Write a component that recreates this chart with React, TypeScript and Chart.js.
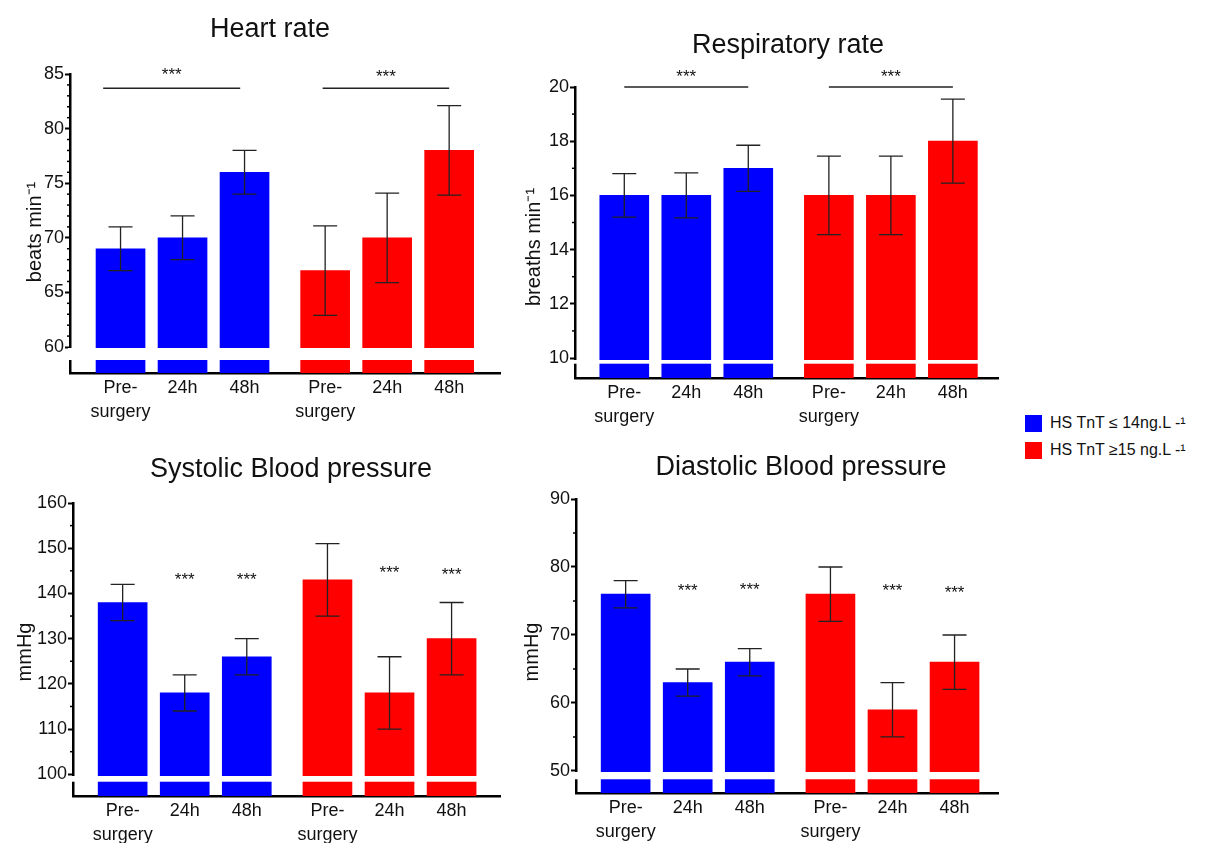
import React, { useEffect, useRef } from 'react';
import { Chart, registerables } from 'chart.js';

Chart.register(...registerables);

const FONT = "'Liberation Sans', Arial, Helvetica, sans-serif";
const BLUE = '#0000ff';
const RED = '#ff0000';
const INK = '#111111';

// ---------- data ----------
const timeLabels: (string | string[])[] = [['Pre-', 'surgery'], '24h', '48h', ['Pre-', 'surgery'], '24h', '48h'];
const barPositions = [0, 1, 2, 3.3, 4.3, 5.3];
const groupNames = ['HS TnT ≤ 14ng.L -¹', 'HS TnT ≥15 ng.L -¹'];

const heartLow = [69, 70, 76];
const heartLowErr = [2, 2, 2];
const heartHigh = [67, 70, 78];
const heartHighErr = [4.1, 4.1, 4.1];
const heartTicks = [60, 65, 70, 75, 80, 85];
const heartMinor = [61, 62, 63, 64, 66, 67, 68, 69, 71, 72, 73, 74, 76, 77, 78, 79, 81, 82, 83, 84];
const heartBrackets = [
  { from: -0.28, to: 1.93, line: 83.7, stars: 85.35 },
  { from: 3.26, to: 5.3, line: 83.7, stars: 85.2 },
];

const respLow = [16, 16, 17];
const respLowErr = [0.8, 0.83, 0.85];
const respHigh = [16, 16, 18];
const respHighErr = [1.45, 1.45, 1.55];
const respTicks = [10, 12, 14, 16, 18, 20];
const respMinor = [11, 13, 15, 17, 19];
const respBrackets = [
  { from: 0, to: 2, line: 20, stars: 20.56 },
  { from: 3.3, to: 5.3, line: 20, stars: 20.56 },
];

const sysLow = [138, 118, 126];
const sysLowErr = [4, 4, 4];
const sysHigh = [143, 118, 130];
const sysHighErr = [8, 8, 8];
const sysTicks = [100, 110, 120, 130, 140, 150, 160];
const sysMinor = [105, 115, 125, 135, 145, 155];
const sysStars = [
  { at: 1, level: 144.1 },
  { at: 2, level: 143.9 },
  { at: 4, level: 145.5 },
  { at: 5, level: 145.2 },
];

const diaLow = [76, 63, 66];
const diaLowErr = [2, 2, 2];
const diaHigh = [76, 59, 66];
const diaHighErr = [4, 4, 4];
const diaTicks = [50, 60, 70, 80, 90];
const diaMinor = [55, 65, 75, 85];
const diaStars = [
  { at: 1, level: 77.1 },
  { at: 2, level: 77.3 },
  { at: 4, level: 77.1 },
  { at: 5, level: 76.9 },
];

// ---------- panel setup ----------
type Bracket = { from: number; to: number; line: number; stars: number };
type Star = { at: number; level: number };
interface Panel {
  title: string;
  yTitle: string;
  low: number[];
  lowErr: number[];
  high: number[];
  highErr: number[];
  majors: number[];
  minors: number[];
  yMin: number;
  yMax: number;
  breakTop: number;
  breakBottom: number;
  xMin: number;
  xMax: number;
  brackets: Bracket[];
  stars: Star[];
  box: { left: number; top: number; width: number; height: number };
  area: { left: number; top: number; right: number; bottom: number };
  titleAt: { x: number; y: number };
  yTitleAt: { x: number; y: number };
}

const panels: Panel[] = [
  {
    title: 'Heart rate', yTitle: 'beats min⁻¹',
    low: heartLow, lowErr: heartLowErr, high: heartHigh, highErr: heartHighErr,
    majors: heartTicks, minors: heartMinor, yMin: 57.62, yMax: 85, breakTop: 60, breakBottom: 58.81,
    xMin: -0.815, xMax: 6.12, brackets: heartBrackets, stars: [],
    box: { left: 0, top: 0, width: 507, height: 440 },
    area: { left: 70, top: 74, right: 500, bottom: 373 },
    titleAt: { x: 270, y: 37 }, yTitleAt: { x: 35, y: 232 },
  },
  {
    title: 'Respiratory rate', yTitle: 'breaths min⁻¹',
    low: respLow, lowErr: respLowErr, high: respHigh, highErr: respHighErr,
    majors: respTicks, minors: respMinor, yMin: 9.262, yMax: 20, breakTop: 9.95, breakBottom: 9.79,
    xMin: -0.795, xMax: 6.028, brackets: respBrackets, stars: [],
    box: { left: 507, top: 0, width: 500, height: 440 },
    area: { left: 68, top: 87, right: 491, bottom: 378 },
    titleAt: { x: 281, y: 53 }, yTitleAt: { x: 27, y: 247 },
  },
  {
    title: 'Systolic Blood pressure', yTitle: 'mmHg',
    low: sysLow, lowErr: sysLowErr, high: sysHigh, highErr: sysHighErr,
    majors: sysTicks, minors: sysMinor, yMin: 95.2, yMax: 160, breakTop: 99.85, breakBottom: 98.36,
    xMin: -0.8, xMax: 6.08, brackets: [], stars: sysStars,
    box: { left: 0, top: 420, width: 507, height: 423 },
    area: { left: 73, top: 83, right: 500, bottom: 376 },
    titleAt: { x: 291, y: 57 }, yTitleAt: { x: 25, y: 232 },
  },
  {
    title: 'Diastolic Blood pressure', yTitle: 'mmHg',
    low: diaLow, lowErr: diaLowErr, high: diaHigh, highErr: diaHighErr,
    majors: diaTicks, minors: diaMinor, yMin: 46.76, yMax: 90, breakTop: 50, breakBottom: 48.78,
    xMin: -0.8, xMax: 6.0, brackets: [], stars: diaStars,
    box: { left: 507, top: 420, width: 500, height: 423 },
    area: { left: 69, top: 79, right: 491, bottom: 373 },
    titleAt: { x: 294, y: 55 }, yTitleAt: { x: 25, y: 232 },
  },
];

const STAR_SIZE = 17;

function decorPlugin(p: Panel) {
  return {
    id: 'decor',
    afterDraw(chart: any) {
      const { ctx, chartArea } = chart;
      const x = chart.scales.x;
      const y = chart.scales.y;
      ctx.save();

      // axis break (white band through bars and y axis)
      const yt = Math.round(y.getPixelForValue(p.breakTop)) + 1;
      const yb = y.getPixelForValue(p.breakBottom);
      ctx.fillStyle = '#ffffff';
      ctx.fillRect(chartArea.left - 2, yt, chartArea.right - chartArea.left + 2, yb - yt);

      // minor ticks
      ctx.strokeStyle = '#000';
      ctx.lineWidth = 1.5;
      p.minors.forEach((v) => {
        const py = y.getPixelForValue(v);
        ctx.beginPath();
        ctx.moveTo(chartArea.left - 3, py);
        ctx.lineTo(chartArea.left, py);
        ctx.stroke();
      });

      // error bars
      ctx.strokeStyle = '#222';
      ctx.lineWidth = 1.3;
      chart.data.datasets.forEach((ds: any, di: number) => {
        const meta = chart.getDatasetMeta(di);
        meta.data.forEach((bar: any, i: number) => {
          const v = ds.data[i].y;
          const e = ds.errors[i];
          const top = y.getPixelForValue(v + e);
          const bot = y.getPixelForValue(v - e);
          const cx = bar.x;
          ctx.beginPath();
          ctx.moveTo(cx, top);
          ctx.lineTo(cx, bot);
          ctx.moveTo(cx - 12, top);
          ctx.lineTo(cx + 12, top);
          ctx.moveTo(cx - 12, bot);
          ctx.lineTo(cx + 12, bot);
          ctx.stroke();
        });
      });

      // significance brackets and stars
      ctx.fillStyle = INK;
      ctx.font = `${STAR_SIZE}px ${FONT}`;
      ctx.textAlign = 'center';
      ctx.textBaseline = 'alphabetic';
      ctx.strokeStyle = '#222';
      ctx.lineWidth = 1.6;
      p.brackets.forEach((b) => {
        const x1 = x.getPixelForValue(b.from);
        const x2 = x.getPixelForValue(b.to);
        const ly = y.getPixelForValue(b.line);
        ctx.beginPath();
        ctx.moveTo(x1, ly);
        ctx.lineTo(x2, ly);
        ctx.stroke();
        ctx.fillText('***', (x1 + x2) / 2, y.getPixelForValue(b.stars) + 0.57 * STAR_SIZE);
      });
      p.stars.forEach((s) => {
        const sx = x.getPixelForValue(barPositions[s.at]);
        ctx.fillText('***', sx, y.getPixelForValue(s.level) + 0.57 * STAR_SIZE);
      });

      // panel title
      ctx.font = `27px ${FONT}`;
      ctx.fillStyle = INK;
      ctx.textAlign = 'center';
      ctx.textBaseline = 'alphabetic';
      ctx.fillText(p.title, p.titleAt.x, p.titleAt.y);

      // y-axis title
      ctx.font = `20px ${FONT}`;
      ctx.textBaseline = 'middle';
      ctx.translate(p.yTitleAt.x, p.yTitleAt.y);
      ctx.rotate(-Math.PI / 2);
      ctx.fillText(p.yTitle, 0, 0);

      ctx.restore();
    },
  };
}

function buildConfig(p: Panel): any {
  return {
    type: 'bar',
    data: {
      datasets: [
        {
          label: groupNames[0],
          data: p.low.map((v, i) => ({ x: barPositions[i], y: v })),
          errors: p.lowErr,
          backgroundColor: BLUE,
        },
        {
          label: groupNames[1],
          data: p.high.map((v, i) => ({ x: barPositions[i + 3], y: v })),
          errors: p.highErr,
          backgroundColor: RED,
        },
      ],
    },
    options: {
      responsive: false,
      maintainAspectRatio: false,
      animation: false,
      events: [],
      layout: { padding: { left: 0, top: p.area.top, right: p.box.width - p.area.right, bottom: 0 } },
      datasets: { bar: { barThickness: 49, grouped: false, borderWidth: 0 } },
      plugins: {
        legend: { display: false },
        tooltip: { enabled: false },
        title: { display: false },
      },
      scales: {
        x: {
          type: 'linear',
          min: p.xMin,
          max: p.xMax,
          offset: false,
          grid: { display: false, drawTicks: false, offset: false },
          border: { display: true, color: '#000', width: 2.5 },
          ticks: {
            autoSkip: false,
            maxRotation: 0,
            minRotation: 0,
            padding: 3,
            color: INK,
            font: { family: FONT, size: 18, lineHeight: 1.35 },
            callback: (_v: number, i: number) => timeLabels[i],
          },
          afterBuildTicks: (s: any) => {
            s.ticks = barPositions.map((v) => ({ value: v }));
          },
          afterFit: (s: any) => {
            s.height = p.box.height - p.area.bottom;
          },
        },
        y: {
          type: 'linear',
          min: p.yMin,
          max: p.yMax,
          grid: { display: true, drawOnChartArea: false, drawTicks: true, tickLength: 5, tickWidth: 2, tickColor: '#000' },
          border: { display: true, color: '#000', width: 2.5 },
          ticks: { autoSkip: false, padding: 1, color: INK, font: { family: FONT, size: 18 } },
          afterBuildTicks: (s: any) => {
            s.ticks = p.majors.map((v) => ({ value: v }));
          },
          afterFit: (s: any) => {
            s.width = p.area.left;
          },
        },
      },
    },
    plugins: [decorPlugin(p)],
  };
}

function PanelChart({ panel }: { panel: Panel }) {
  const ref = useRef<HTMLCanvasElement>(null);
  useEffect(() => {
    if (!ref.current) return;
    const chart = new Chart(ref.current, buildConfig(panel));
    return () => chart.destroy();
  }, [panel]);
  const { box } = panel;
  return (
    <canvas
      ref={ref}
      width={box.width}
      height={box.height}
      style={{ position: 'absolute', left: box.left, top: box.top, width: box.width, height: box.height }}
    />
  );
}

export default function App() {
  const colors = [BLUE, RED];
  return (
    <div
      style={{
        position: 'fixed',
        left: 0,
        top: 0,
        width: 1214,
        height: 843,
        background: '#ffffff',
        overflow: 'hidden',
      }}
    >
      {panels.map((p) => (
        <PanelChart key={p.title} panel={p} />
      ))}
      <div style={{ position: 'absolute', left: 1025, top: 409.5, fontFamily: FONT, fontSize: 16, color: INK }}>
        {groupNames.map((n, i) => (
          <div key={n} style={{ display: 'flex', alignItems: 'center', height: 27, whiteSpace: 'nowrap' }}>
            <span style={{ display: 'inline-block', width: 17, height: 17, background: colors[i], marginRight: 8 }} />
            <span>{n}</span>
          </div>
        ))}
      </div>
    </div>
  );
}
